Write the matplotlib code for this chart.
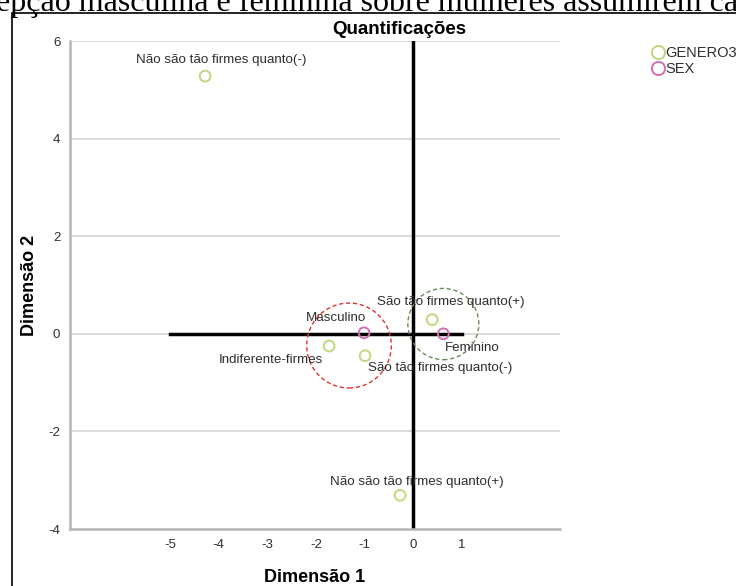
import matplotlib.pyplot as plt
from matplotlib.patches import Circle, Rectangle
from matplotlib.lines import Line2D

plt.rcParams["font.family"] = ["Liberation Sans", "DejaVu Sans"]
plt.rcParams["axes.unicode_minus"] = False

# Quantificações - categorias de GENERO3 e SEX nas duas dimensões
genero_labels = ["Não são tão firmes quanto(-)", "São tão firmes quanto(+)",
                 "Indiferente-firmes", "São tão firmes quanto(-)",
                 "Não são tão firmes quanto(+)"]
genero_x = [-4.28, 0.39, -1.73, -0.99, -0.27]
genero_y = [5.28, 0.29, -0.25, -0.45, -3.31]

sex_labels = ["Masculino", "Feminino"]
sex_x = [-1.01, 0.62]
sex_y = [0.02, 0.0]

x_ticks = [-5, -4, -3, -2, -1, 0, 1]
y_ticks = [-4, -2, 0, 2, 4, 6]

# deslocamento dos rótulos (pixels)
genero_off = [(16, 16), (19, 18), (-58, -14), (75, -12), (17, 13)]
sex_off = [(-28, 15), (29, -14)]

green = "#bfd77f"
pink = "#d46fb4"
txt = "#2e2e2e"

fig = plt.figure(figsize=(7.36, 5.86), dpi=100)
ax = fig.add_axes([70 / 736, 1 - 529 / 586, 490 / 736, 488 / 586])

ax.set_xlim(-7.06, 3.02)
ax.set_ylim(-4, 6)

for y in y_ticks[1:]:
    ax.axhline(y, color="#d4d4d4", lw=1.2, zorder=0)

# eixos de referência
ax.plot([0, 0], [-4, 6], color="black", lw=2.5, zorder=2)
ax.plot([-5, 1], [0, 0], color="black", lw=2.5, zorder=2)

for s in ["top", "right"]:
    ax.spines[s].set_visible(False)
for s in ["left", "bottom"]:
    ax.spines[s].set_color("#b5b5b5")
    ax.spines[s].set_linewidth(1.8)

ax.set_xticks(x_ticks)
ax.set_yticks(y_ticks)
ax.tick_params(length=0, labelsize=9.5, colors=txt)
ax.tick_params(axis="x", pad=7)
ax.tick_params(axis="y", pad=7)

ax.scatter(genero_x, genero_y, s=60, facecolors="none", edgecolors=green,
           linewidths=1.4, zorder=3)
ax.scatter(sex_x, sex_y, s=60, facecolors="none", edgecolors=pink,
           linewidths=1.4, zorder=3)

for lab, x, y, off in zip(genero_labels, genero_x, genero_y, genero_off):
    ax.annotate(lab, (x, y), xytext=off, textcoords="offset pixels",
                ha="center", va="center", fontsize=9.6, color=txt, zorder=4)
for lab, x, y, off in zip(sex_labels, sex_x, sex_y, sex_off):
    ax.annotate(lab, (x, y), xytext=off, textcoords="offset pixels",
                ha="center", va="center", fontsize=9.6, color=txt, zorder=4)

# agrupamentos
ax.add_patch(Circle((-1.32, -0.24), 0.87, fill=False, ls=(0, (3, 2)),
                    color="#e03030", lw=1, zorder=3))
ax.add_patch(Circle((0.62, 0.2), 0.73, fill=False, ls=(0, (3, 2)),
                    color="#6a8a5a", lw=1, zorder=3))

ax.set_title("Quantificações", fontsize=13.5, fontweight="bold", pad=5, x=0.673)
ax.set_xlabel("Dimensão 1", fontsize=13, fontweight="bold", va="center")
ax.set_ylabel("Dimensão 2", fontsize=13, fontweight="bold", va="center")
ax.xaxis.set_label_coords(0.5, (529 - 578) / 488)
ax.yaxis.set_label_coords((29 - 70) / 490, 0.5)

handles = [Line2D([], [], marker="o", ls="none", mfc="none", mec=green,
                  mew=1.4, ms=9.5, label="GENERO3"),
           Line2D([], [], marker="o", ls="none", mfc="none", mec=pink,
                  mew=1.4, ms=9.5, label="SEX")]
fig.legend(handles=handles, loc="upper left",
           bbox_to_anchor=(642 / 736, 1 - 39 / 586),
           frameon=False, fontsize=10.5, handletextpad=-0.1, labelspacing=0.1,
           borderpad=0, handlelength=1.2, labelcolor=txt)

# moldura e texto do documento
fig.patches.append(Rectangle((12 / 736, -0.1), 1.1, 1 - 13 / 586 + 0.1,
                             transform=fig.transFigure, fill=False,
                             ec="black", lw=1.2))
fig.text(-4 / 736, 1 - 11 / 586,
         "epção masculina e feminina sobre mulheres assumirem ca",
         family="Liberation Serif", fontsize=23, ha="left", va="baseline")

fig.savefig("out.png", dpi=100)
